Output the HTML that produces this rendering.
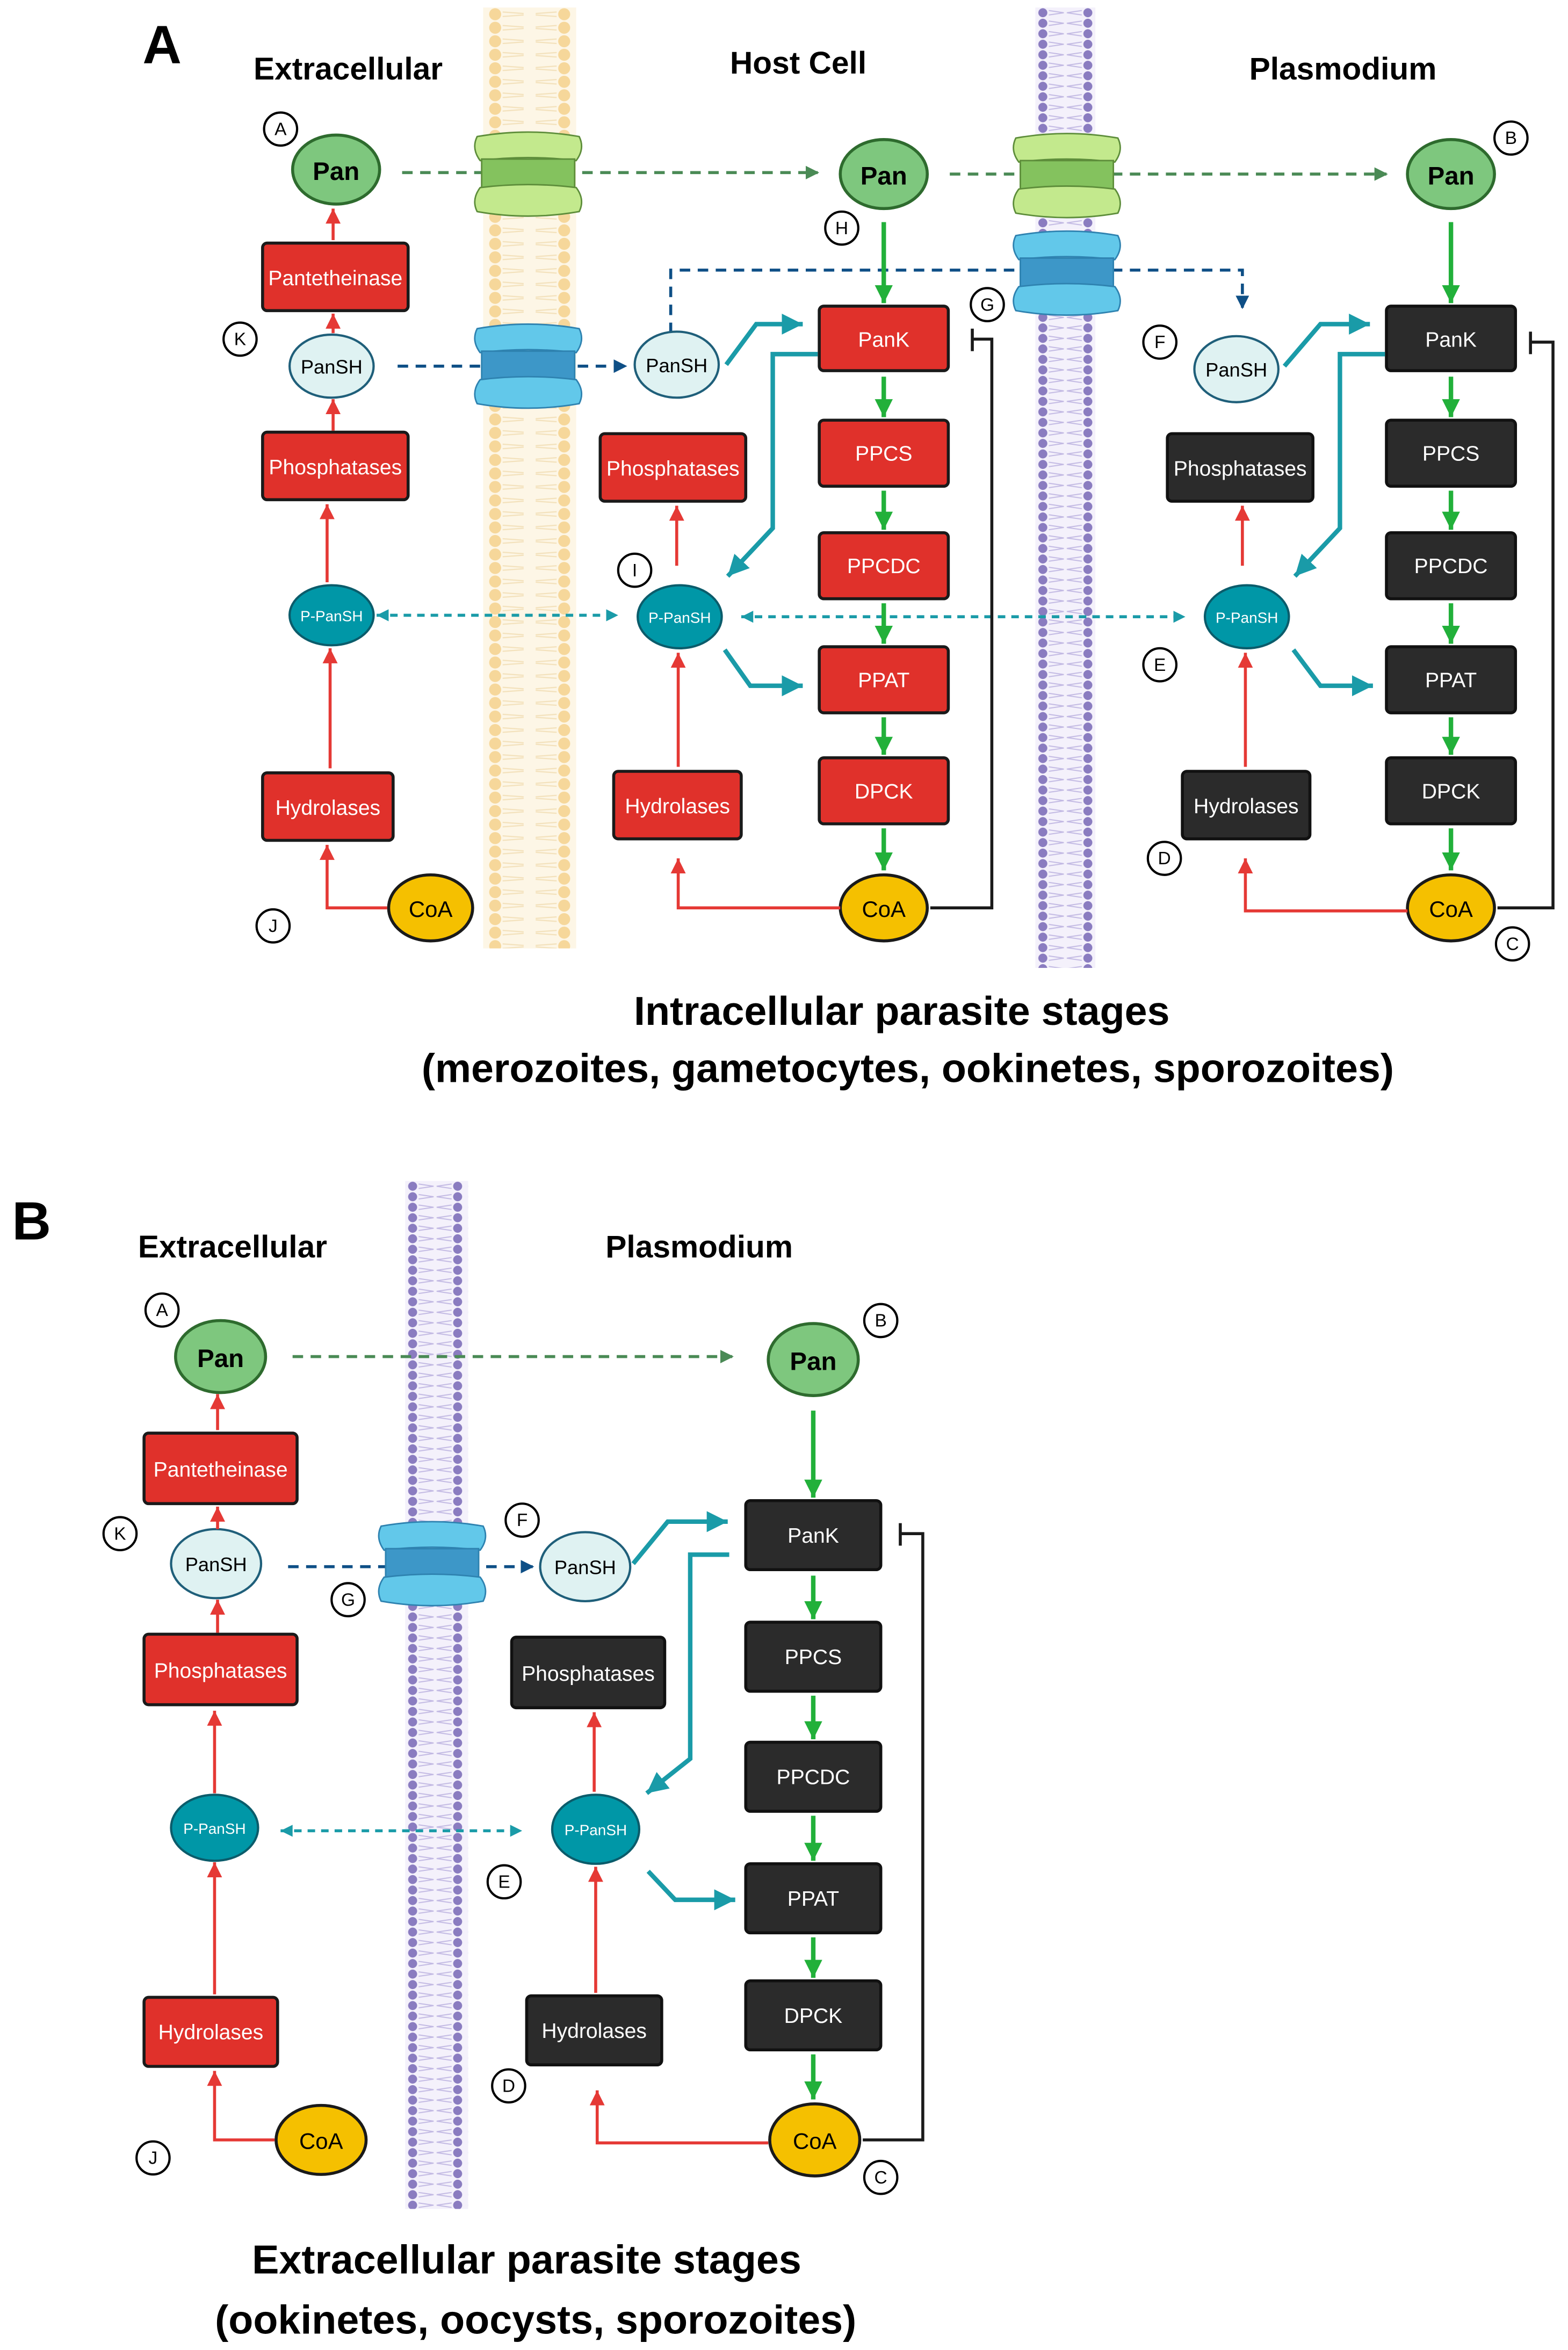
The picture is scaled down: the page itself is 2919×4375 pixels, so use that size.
<!DOCTYPE html>
<html><head><meta charset="utf-8"><style>
html,body{margin:0;padding:0;background:#fff;}
svg{display:block;}
text{font-family:"Liberation Sans",sans-serif;}
</style></head><body>
<svg width="2919" height="4375" viewBox="0 0 1045 1566" preserveAspectRatio="none" xmlns="http://www.w3.org/2000/svg">
<defs>
<pattern id="py" x="0" y="0" width="62" height="9" patternUnits="userSpaceOnUse">
<rect width="62" height="9" fill="#fdf6e6"/>
<circle cx="8" cy="4.5" r="4" fill="#f6d79a"/><circle cx="54" cy="4.5" r="4" fill="#f6d79a"/>
<path d="M13 3 L27 4 M13 6 L27 5 M35 4 L49 3 M35 5 L49 6" stroke="#f3e1bb" stroke-width="0.8"/>
</pattern>
<pattern id="pp" x="0" y="0" width="40" height="7" patternUnits="userSpaceOnUse">
<rect width="40" height="7" fill="#f4f1fb"/>
<circle cx="5" cy="3.5" r="3" fill="#8a7cc0"/><circle cx="35" cy="3.5" r="3" fill="#8a7cc0"/>
<path d="M9 2 L19 3.5 M9 5 L19 3.5 M21 3.5 L31 2 M21 3.5 L31 5" stroke="#c2b9e3" stroke-width="0.7"/>
</pattern>
<marker id="mg" markerWidth="14" markerHeight="14" refX="12" refY="6" orient="auto" markerUnits="userSpaceOnUse"><path d="M0 0 L12 6 L0 12Z" fill="#22b03a"/></marker>
<marker id="mr" markerWidth="12" markerHeight="12" refX="10" refY="5" orient="auto" markerUnits="userSpaceOnUse"><path d="M0 0 L10 5 L0 10Z" fill="#e53935"/></marker>
<marker id="mt" markerWidth="16" markerHeight="16" refX="14" refY="7" orient="auto" markerUnits="userSpaceOnUse"><path d="M0 0 L14 7 L0 14Z" fill="#1a9ba8"/></marker>
<marker id="mtd" markerWidth="10" markerHeight="10" refX="8" refY="4" orient="auto" markerUnits="userSpaceOnUse"><path d="M0 0 L8 4 L0 8Z" fill="#1a9ba8"/></marker>
<marker id="mtds" markerWidth="10" markerHeight="10" refX="0" refY="4" orient="auto" markerUnits="userSpaceOnUse"><path d="M8 0 L0 4 L8 8Z" fill="#1a9ba8"/></marker>
<marker id="mgd" markerWidth="10" markerHeight="10" refX="8" refY="4.5" orient="auto" markerUnits="userSpaceOnUse"><path d="M0 0 L9 4.5 L0 9Z" fill="#4a8a55"/></marker>
<marker id="mbd" markerWidth="10" markerHeight="10" refX="8" refY="4.5" orient="auto" markerUnits="userSpaceOnUse"><path d="M0 0 L9 4.5 L0 9Z" fill="#0e4f86"/></marker>
<g id="gch">
<path d="M2 6 Q36 0 70 6 Q74 14 68 22 Q36 18 4 22 Q-2 14 2 6Z" fill="#c3e98d" stroke="#5d8d3a" stroke-width="1"/>
<rect x="5" y="21" width="62" height="20" fill="#84c25e" stroke="#5d8d3a" stroke-width="1"/>
<path d="M4 40 Q36 36 68 40 Q74 48 70 56 Q36 62 2 56 Q-2 48 4 40Z" fill="#c3e98d" stroke="#5d8d3a" stroke-width="1"/>
</g>
<g id="bch">
<path d="M2 6 Q36 0 70 6 Q74 14 68 22 Q36 18 4 22 Q-2 14 2 6Z" fill="#62c8ea" stroke="#2e82b0" stroke-width="1"/>
<rect x="5" y="21" width="62" height="20" fill="#3d97c8" stroke="#2e82b0" stroke-width="1"/>
<path d="M4 40 Q36 36 68 40 Q74 48 70 56 Q36 62 2 56 Q-2 48 4 40Z" fill="#62c8ea" stroke="#2e82b0" stroke-width="1"/>
</g>
</defs>

<!-- ===== PANEL A ===== -->
<text x="95" y="42" font-size="36" font-weight="bold" fill="#000">A</text>
<text x="232" y="53" font-size="21" font-weight="bold" text-anchor="middle">Extracellular</text>
<text x="532" y="49" font-size="21" font-weight="bold" text-anchor="middle">Host Cell</text>
<text x="895" y="53" font-size="21" font-weight="bold" text-anchor="middle">Plasmodium</text>

<g transform="translate(322,5)"><rect width="62" height="627" fill="url(#py)"/></g>
<g transform="translate(690,5)"><rect width="40" height="640" fill="url(#pp)"/></g>

<line x1="268" y1="115" x2="545" y2="115" stroke="#4a8a55" stroke-width="2" stroke-dasharray="7,5" marker-end="url(#mgd)"/>
<line x1="633" y1="116" x2="924" y2="116" stroke="#4a8a55" stroke-width="2" stroke-dasharray="7,5" marker-end="url(#mgd)"/>
<use href="#gch" x="316" y="85"/>
<use href="#gch" x="675" y="86"/>
<line x1="265" y1="244" x2="417" y2="244" stroke="#0e4f86" stroke-width="2" stroke-dasharray="7,5" marker-end="url(#mbd)"/>
<polyline points="447,222 447,180 828,180 828,205" fill="none" stroke="#0e4f86" stroke-width="2" stroke-dasharray="7,5" marker-end="url(#mbd)"/>
<use href="#bch" x="316" y="213"/>
<use href="#bch" x="675" y="151"/>

<ellipse cx="224" cy="113" rx="29" ry="23" fill="#7ec77e" stroke="#2e6b2e" stroke-width="2"/>
<text x="224" y="120" font-size="17" font-weight="bold" text-anchor="middle">Pan</text>
<rect x="175" y="162" width="97" height="45" rx="3" fill="#e0312b" stroke="#1a1a1a" stroke-width="2"/>
<text x="223.5" y="190" font-size="14" fill="#fff" text-anchor="middle">Pantetheinase</text>
<ellipse cx="221" cy="244" rx="28" ry="21" fill="#dff2f2" stroke="#1f5f7a" stroke-width="1.5"/>
<text x="221" y="249" font-size="13" text-anchor="middle">PanSH</text>
<rect x="175" y="288" width="97" height="45" rx="3" fill="#e0312b" stroke="#1a1a1a" stroke-width="2"/>
<text x="223.5" y="316" font-size="14" fill="#fff" text-anchor="middle">Phosphatases</text>
<ellipse cx="221" cy="410" rx="28" ry="20" fill="#0097a7" stroke="#0b5c6b" stroke-width="1.5"/>
<text x="221" y="414" font-size="10" fill="#fff" text-anchor="middle">P-PanSH</text>
<rect x="175" y="515" width="87" height="45" rx="3" fill="#e0312b" stroke="#1a1a1a" stroke-width="2"/>
<text x="218.5" y="543" font-size="14" fill="#fff" text-anchor="middle">Hydrolases</text>
<ellipse cx="287" cy="605" rx="28" ry="22" fill="#f5c000" stroke="#1a1a1a" stroke-width="2"/>
<text x="287" y="611" font-size="15" text-anchor="middle">CoA</text>
<g stroke="#e53935" stroke-width="2" fill="none">
<line x1="222" y1="160" x2="222" y2="139" marker-end="url(#mr)"/>
<line x1="222" y1="222" x2="222" y2="209" marker-end="url(#mr)"/>
<line x1="222" y1="287" x2="222" y2="266" marker-end="url(#mr)"/>
<line x1="218" y1="388" x2="218" y2="336" marker-end="url(#mr)"/>
<line x1="220" y1="512" x2="220" y2="432" marker-end="url(#mr)"/>
<polyline points="258,605 218,605 218,563" marker-end="url(#mr)"/>
</g>
<line x1="251" y1="410" x2="412" y2="410" stroke="#1a9ba8" stroke-width="2" stroke-dasharray="5,4" marker-start="url(#mtds)" marker-end="url(#mtd)"/>
<line x1="494" y1="411" x2="790" y2="411" stroke="#1a9ba8" stroke-width="2" stroke-dasharray="5,4" marker-start="url(#mtds)" marker-end="url(#mtd)"/>

<ellipse cx="589" cy="116" rx="29" ry="23" fill="#7ec77e" stroke="#2e6b2e" stroke-width="2"/>
<text x="589" y="123" font-size="17" font-weight="bold" text-anchor="middle">Pan</text>
<ellipse cx="451" cy="243" rx="28" ry="22" fill="#dff2f2" stroke="#1f5f7a" stroke-width="1.5"/>
<text x="451" y="248" font-size="13" text-anchor="middle">PanSH</text>
<rect x="400" y="289" width="97" height="45" rx="3" fill="#e0312b" stroke="#1a1a1a" stroke-width="2"/>
<text x="448.5" y="317" font-size="14" fill="#fff" text-anchor="middle">Phosphatases</text>
<ellipse cx="453" cy="411" rx="28" ry="21" fill="#0097a7" stroke="#0b5c6b" stroke-width="1.5"/>
<text x="453" y="415" font-size="10" fill="#fff" text-anchor="middle">P-PanSH</text>
<rect x="409" y="514" width="85" height="45" rx="3" fill="#e0312b" stroke="#1a1a1a" stroke-width="2"/>
<text x="451.5" y="542" font-size="14" fill="#fff" text-anchor="middle">Hydrolases</text>
<ellipse cx="589" cy="605" rx="29" ry="22" fill="#f5c000" stroke="#1a1a1a" stroke-width="2"/>
<text x="589" y="611" font-size="15" text-anchor="middle">CoA</text>
<g font-size="14" fill="#fff" text-anchor="middle">
<rect x="546" y="204" width="86" height="43" rx="3" fill="#e0312b" stroke="#1a1a1a" stroke-width="2"/><text x="589" y="231">PanK</text>
<rect x="546" y="280" width="86" height="44" rx="3" fill="#e0312b" stroke="#1a1a1a" stroke-width="2"/><text x="589" y="307">PPCS</text>
<rect x="546" y="355" width="86" height="44" rx="3" fill="#e0312b" stroke="#1a1a1a" stroke-width="2"/><text x="589" y="382">PPCDC</text>
<rect x="546" y="431" width="86" height="44" rx="3" fill="#e0312b" stroke="#1a1a1a" stroke-width="2"/><text x="589" y="458">PPAT</text>
<rect x="546" y="505" width="86" height="44" rx="3" fill="#e0312b" stroke="#1a1a1a" stroke-width="2"/><text x="589" y="532">DPCK</text>
</g>
<g stroke="#22b03a" stroke-width="3" fill="none">
<line x1="589" y1="148" x2="589" y2="202" marker-end="url(#mg)"/>
<line x1="589" y1="251" x2="589" y2="278" marker-end="url(#mg)"/>
<line x1="589" y1="327" x2="589" y2="353" marker-end="url(#mg)"/>
<line x1="589" y1="402" x2="589" y2="429" marker-end="url(#mg)"/>
<line x1="589" y1="478" x2="589" y2="503" marker-end="url(#mg)"/>
<line x1="589" y1="552" x2="589" y2="580" marker-end="url(#mg)"/>
</g>
<g stroke="#e53935" stroke-width="2" fill="none">
<line x1="451" y1="377" x2="451" y2="337" marker-end="url(#mr)"/>
<line x1="452" y1="511" x2="452" y2="435" marker-end="url(#mr)"/>
<polyline points="560,605 452,605 452,572" marker-end="url(#mr)"/>
</g>
<g stroke="#1a9ba8" stroke-width="3" fill="none">
<polyline points="484,243 504,216 535,216" marker-end="url(#mt)"/>
<polyline points="545,236 515,236 515,352 485,384" marker-end="url(#mt)"/>
<polyline points="483,433 500,457 535,457" marker-end="url(#mt)"/>
</g>
<polyline points="620,605 661,605 661,226 648,226" fill="none" stroke="#1a1a1a" stroke-width="2"/>
<line x1="648" y1="219" x2="648" y2="234" stroke="#1a1a1a" stroke-width="2"/>

<ellipse cx="967" cy="116" rx="29" ry="23" fill="#7ec77e" stroke="#2e6b2e" stroke-width="2"/>
<text x="967" y="123" font-size="17" font-weight="bold" text-anchor="middle">Pan</text>
<ellipse cx="824" cy="246" rx="28" ry="22" fill="#dff2f2" stroke="#1f5f7a" stroke-width="1.5"/>
<text x="824" y="251" font-size="13" text-anchor="middle">PanSH</text>
<rect x="778" y="289" width="97" height="45" rx="3" fill="#2b2b2b" stroke="#111" stroke-width="2"/>
<text x="826.5" y="317" font-size="14" fill="#fff" text-anchor="middle">Phosphatases</text>
<ellipse cx="831" cy="411" rx="28" ry="21" fill="#0097a7" stroke="#0b5c6b" stroke-width="1.5"/>
<text x="831" y="415" font-size="10" fill="#fff" text-anchor="middle">P-PanSH</text>
<rect x="788" y="514" width="85" height="45" rx="3" fill="#2b2b2b" stroke="#111" stroke-width="2"/>
<text x="830.5" y="542" font-size="14" fill="#fff" text-anchor="middle">Hydrolases</text>
<ellipse cx="967" cy="605" rx="29" ry="22" fill="#f5c000" stroke="#1a1a1a" stroke-width="2"/>
<text x="967" y="611" font-size="15" text-anchor="middle">CoA</text>
<g font-size="14" fill="#fff" text-anchor="middle">
<rect x="924" y="204" width="86" height="43" rx="3" fill="#2b2b2b" stroke="#111" stroke-width="2"/><text x="967" y="231">PanK</text>
<rect x="924" y="280" width="86" height="44" rx="3" fill="#2b2b2b" stroke="#111" stroke-width="2"/><text x="967" y="307">PPCS</text>
<rect x="924" y="355" width="86" height="44" rx="3" fill="#2b2b2b" stroke="#111" stroke-width="2"/><text x="967" y="382">PPCDC</text>
<rect x="924" y="431" width="86" height="44" rx="3" fill="#2b2b2b" stroke="#111" stroke-width="2"/><text x="967" y="458">PPAT</text>
<rect x="924" y="505" width="86" height="44" rx="3" fill="#2b2b2b" stroke="#111" stroke-width="2"/><text x="967" y="532">DPCK</text>
</g>
<g stroke="#22b03a" stroke-width="3" fill="none">
<line x1="967" y1="148" x2="967" y2="202" marker-end="url(#mg)"/>
<line x1="967" y1="251" x2="967" y2="278" marker-end="url(#mg)"/>
<line x1="967" y1="327" x2="967" y2="353" marker-end="url(#mg)"/>
<line x1="967" y1="402" x2="967" y2="429" marker-end="url(#mg)"/>
<line x1="967" y1="478" x2="967" y2="503" marker-end="url(#mg)"/>
<line x1="967" y1="552" x2="967" y2="580" marker-end="url(#mg)"/>
</g>
<g stroke="#e53935" stroke-width="2" fill="none">
<line x1="828" y1="377" x2="828" y2="337" marker-end="url(#mr)"/>
<line x1="830" y1="511" x2="830" y2="435" marker-end="url(#mr)"/>
<polyline points="938,607 830,607 830,572" marker-end="url(#mr)"/>
</g>
<g stroke="#1a9ba8" stroke-width="3" fill="none">
<polyline points="856,244 880,216 913,216" marker-end="url(#mt)"/>
<polyline points="923,236 893,236 893,352 863,384" marker-end="url(#mt)"/>
<polyline points="862,433 880,457 915,457" marker-end="url(#mt)"/>
</g>
<polyline points="998,605 1035,605 1035,228 1020,228" fill="none" stroke="#1a1a1a" stroke-width="2"/>
<line x1="1020" y1="221" x2="1020" y2="236" stroke="#1a1a1a" stroke-width="2"/>

<g font-size="12" text-anchor="middle" fill="#000">
<circle cx="187" cy="86" r="11" fill="#fff" stroke="#000" stroke-width="1.5"/><text x="187" y="90">A</text>
<circle cx="1007" cy="92" r="11" fill="#fff" stroke="#000" stroke-width="1.5"/><text x="1007" y="96">B</text>
<circle cx="561" cy="152" r="11" fill="#fff" stroke="#000" stroke-width="1.5"/><text x="561" y="156">H</text>
<circle cx="658" cy="203" r="11" fill="#fff" stroke="#000" stroke-width="1.5"/><text x="658" y="207">G</text>
<circle cx="773" cy="228" r="11" fill="#fff" stroke="#000" stroke-width="1.5"/><text x="773" y="232">F</text>
<circle cx="160" cy="226" r="11" fill="#fff" stroke="#000" stroke-width="1.5"/><text x="160" y="230">K</text>
<circle cx="423" cy="380" r="11" fill="#fff" stroke="#000" stroke-width="1.5"/><text x="423" y="384">I</text>
<circle cx="773" cy="443" r="11" fill="#fff" stroke="#000" stroke-width="1.5"/><text x="773" y="447">E</text>
<circle cx="776" cy="572" r="11" fill="#fff" stroke="#000" stroke-width="1.5"/><text x="776" y="576">D</text>
<circle cx="1008" cy="629" r="11" fill="#fff" stroke="#000" stroke-width="1.5"/><text x="1008" y="633">C</text>
<circle cx="182" cy="617" r="11" fill="#fff" stroke="#000" stroke-width="1.5"/><text x="182" y="621">J</text>
</g>
<text x="601" y="683" font-size="27" font-weight="bold" text-anchor="middle">Intracellular parasite stages</text>
<text x="605" y="721" font-size="27" font-weight="bold" text-anchor="middle">(merozoites, gametocytes, ookinetes, sporozoites)</text>

<!-- ===== PANEL B ===== -->
<text x="8" y="826" font-size="36" font-weight="bold">B</text>
<text x="155" y="838" font-size="21" font-weight="bold" text-anchor="middle">Extracellular</text>
<text x="466" y="838" font-size="21" font-weight="bold" text-anchor="middle">Plasmodium</text>
<g transform="translate(270,787)"><rect width="42" height="685" fill="url(#pp)"/></g>

<line x1="195" y1="904" x2="488" y2="904" stroke="#4a8a55" stroke-width="2" stroke-dasharray="7,5" marker-end="url(#mgd)"/>
<line x1="192" y1="1044" x2="355" y2="1044" stroke="#0e4f86" stroke-width="2" stroke-dasharray="7,5" marker-end="url(#mbd)"/>
<use href="#bch" x="252" y="1011"/>
<line x1="187" y1="1220" x2="348" y2="1220" stroke="#1a9ba8" stroke-width="2" stroke-dasharray="5,4" marker-start="url(#mtds)" marker-end="url(#mtd)"/>

<ellipse cx="147" cy="904" rx="30" ry="24" fill="#7ec77e" stroke="#2e6b2e" stroke-width="2"/>
<text x="147" y="911" font-size="17" font-weight="bold" text-anchor="middle">Pan</text>
<rect x="96" y="955" width="102" height="47" rx="3" fill="#e0312b" stroke="#1a1a1a" stroke-width="2"/>
<text x="147" y="984" font-size="14" fill="#fff" text-anchor="middle">Pantetheinase</text>
<ellipse cx="144" cy="1042" rx="30" ry="23" fill="#dff2f2" stroke="#1f5f7a" stroke-width="1.5"/>
<text x="144" y="1047" font-size="13" text-anchor="middle">PanSH</text>
<rect x="96" y="1089" width="102" height="47" rx="3" fill="#e0312b" stroke="#1a1a1a" stroke-width="2"/>
<text x="147" y="1118" font-size="14" fill="#fff" text-anchor="middle">Phosphatases</text>
<ellipse cx="143" cy="1218" rx="29" ry="22" fill="#0097a7" stroke="#0b5c6b" stroke-width="1.5"/>
<text x="143" y="1222" font-size="10" fill="#fff" text-anchor="middle">P-PanSH</text>
<rect x="96" y="1331" width="89" height="46" rx="3" fill="#e0312b" stroke="#1a1a1a" stroke-width="2"/>
<text x="140.5" y="1359" font-size="14" fill="#fff" text-anchor="middle">Hydrolases</text>
<ellipse cx="214" cy="1426" rx="30" ry="23" fill="#f5c000" stroke="#1a1a1a" stroke-width="2"/>
<text x="214" y="1432" font-size="15" text-anchor="middle">CoA</text>
<g stroke="#e53935" stroke-width="2" fill="none">
<line x1="145" y1="953" x2="145" y2="929" marker-end="url(#mr)"/>
<line x1="145" y1="1019" x2="145" y2="1004" marker-end="url(#mr)"/>
<line x1="145" y1="1088" x2="145" y2="1066" marker-end="url(#mr)"/>
<line x1="143" y1="1195" x2="143" y2="1140" marker-end="url(#mr)"/>
<line x1="143" y1="1329" x2="143" y2="1241" marker-end="url(#mr)"/>
<polyline points="183,1426 143,1426 143,1380" marker-end="url(#mr)"/>
</g>

<ellipse cx="542" cy="906" rx="30" ry="24" fill="#7ec77e" stroke="#2e6b2e" stroke-width="2"/>
<text x="542" y="913" font-size="17" font-weight="bold" text-anchor="middle">Pan</text>
<ellipse cx="390" cy="1044" rx="30" ry="23" fill="#dff2f2" stroke="#1f5f7a" stroke-width="1.5"/>
<text x="390" y="1049" font-size="13" text-anchor="middle">PanSH</text>
<rect x="341" y="1091" width="102" height="47" rx="3" fill="#2b2b2b" stroke="#111" stroke-width="2"/>
<text x="392" y="1120" font-size="14" fill="#fff" text-anchor="middle">Phosphatases</text>
<ellipse cx="397" cy="1219" rx="29" ry="23" fill="#0097a7" stroke="#0b5c6b" stroke-width="1.5"/>
<text x="397" y="1223" font-size="10" fill="#fff" text-anchor="middle">P-PanSH</text>
<rect x="351" y="1330" width="90" height="46" rx="3" fill="#2b2b2b" stroke="#111" stroke-width="2"/>
<text x="396" y="1358" font-size="14" fill="#fff" text-anchor="middle">Hydrolases</text>
<ellipse cx="543" cy="1426" rx="30" ry="24" fill="#f5c000" stroke="#1a1a1a" stroke-width="2"/>
<text x="543" y="1432" font-size="15" text-anchor="middle">CoA</text>
<g font-size="14" fill="#fff" text-anchor="middle">
<rect x="497" y="1000" width="90" height="46" rx="3" fill="#2b2b2b" stroke="#111" stroke-width="2"/><text x="542" y="1028">PanK</text>
<rect x="497" y="1081" width="90" height="46" rx="3" fill="#2b2b2b" stroke="#111" stroke-width="2"/><text x="542" y="1109">PPCS</text>
<rect x="497" y="1161" width="90" height="46" rx="3" fill="#2b2b2b" stroke="#111" stroke-width="2"/><text x="542" y="1189">PPCDC</text>
<rect x="497" y="1242" width="90" height="46" rx="3" fill="#2b2b2b" stroke="#111" stroke-width="2"/><text x="542" y="1270">PPAT</text>
<rect x="497" y="1320" width="90" height="46" rx="3" fill="#2b2b2b" stroke="#111" stroke-width="2"/><text x="542" y="1348">DPCK</text>
</g>
<g stroke="#22b03a" stroke-width="3" fill="none">
<line x1="542" y1="940" x2="542" y2="998" marker-end="url(#mg)"/>
<line x1="542" y1="1050" x2="542" y2="1079" marker-end="url(#mg)"/>
<line x1="542" y1="1130" x2="542" y2="1159" marker-end="url(#mg)"/>
<line x1="542" y1="1210" x2="542" y2="1240" marker-end="url(#mg)"/>
<line x1="542" y1="1291" x2="542" y2="1318" marker-end="url(#mg)"/>
<line x1="542" y1="1369" x2="542" y2="1399" marker-end="url(#mg)"/>
</g>
<g stroke="#e53935" stroke-width="2" fill="none">
<line x1="396" y1="1194" x2="396" y2="1141" marker-end="url(#mr)"/>
<line x1="397" y1="1328" x2="397" y2="1244" marker-end="url(#mr)"/>
<polyline points="512,1428 398,1428 398,1393" marker-end="url(#mr)"/>
</g>
<g stroke="#1a9ba8" stroke-width="3" fill="none">
<polyline points="422,1042 445,1014 485,1014" marker-end="url(#mt)"/>
<polyline points="486,1036 460,1036 460,1172 431,1195" marker-end="url(#mt)"/>
<polyline points="432,1247 450,1266 490,1266" marker-end="url(#mt)"/>
</g>
<polyline points="575,1426 615,1426 615,1022 600,1022" fill="none" stroke="#1a1a1a" stroke-width="2"/>
<line x1="600" y1="1015" x2="600" y2="1030" stroke="#1a1a1a" stroke-width="2"/>

<g font-size="12" text-anchor="middle" fill="#000">
<circle cx="108" cy="873" r="11" fill="#fff" stroke="#000" stroke-width="1.5"/><text x="108" y="877">A</text>
<circle cx="587" cy="880" r="11" fill="#fff" stroke="#000" stroke-width="1.5"/><text x="587" y="884">B</text>
<circle cx="80" cy="1022" r="11" fill="#fff" stroke="#000" stroke-width="1.5"/><text x="80" y="1026">K</text>
<circle cx="348" cy="1013" r="11" fill="#fff" stroke="#000" stroke-width="1.5"/><text x="348" y="1017">F</text>
<circle cx="232" cy="1066" r="11" fill="#fff" stroke="#000" stroke-width="1.5"/><text x="232" y="1070">G</text>
<circle cx="336" cy="1254" r="11" fill="#fff" stroke="#000" stroke-width="1.5"/><text x="336" y="1258">E</text>
<circle cx="339" cy="1390" r="11" fill="#fff" stroke="#000" stroke-width="1.5"/><text x="339" y="1394">D</text>
<circle cx="587" cy="1451" r="11" fill="#fff" stroke="#000" stroke-width="1.5"/><text x="587" y="1455">C</text>
<circle cx="102" cy="1438" r="11" fill="#fff" stroke="#000" stroke-width="1.5"/><text x="102" y="1442">J</text>
</g>
<text x="351" y="1515" font-size="27" font-weight="bold" text-anchor="middle">Extracellular parasite stages</text>
<text x="357" y="1555" font-size="27" font-weight="bold" text-anchor="middle">(ookinetes, oocysts, sporozoites)</text>
</svg>
</body></html>
